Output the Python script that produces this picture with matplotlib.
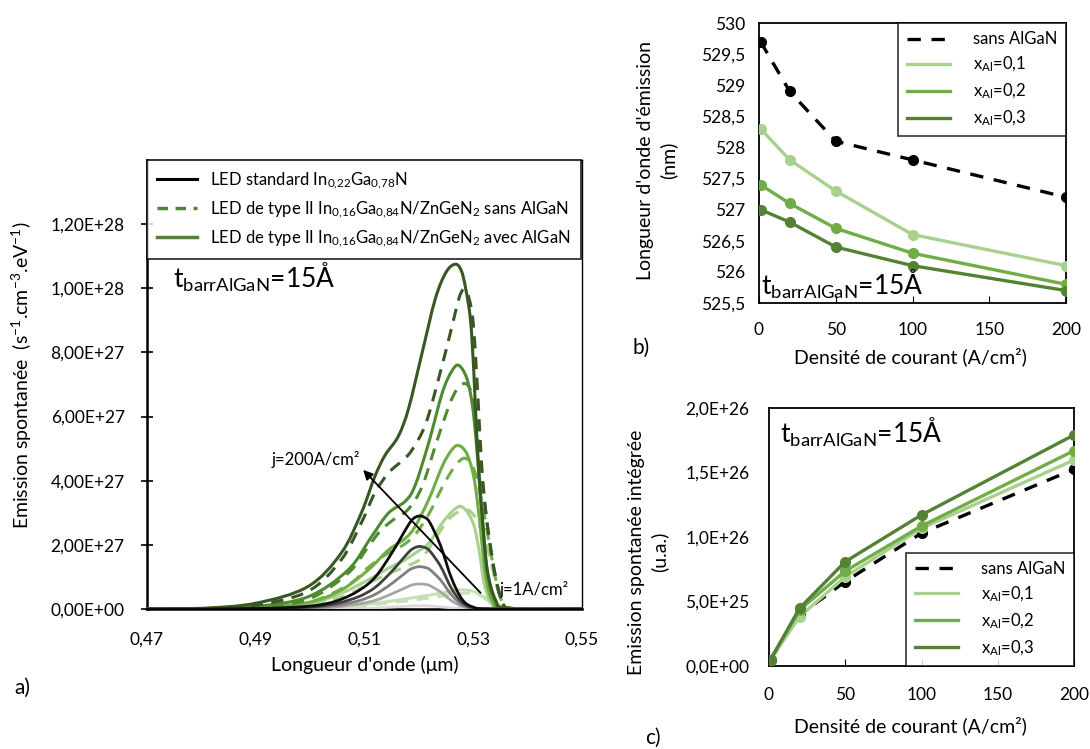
import matplotlib
matplotlib.use('Agg')
import matplotlib.pyplot as plt
from matplotlib.ticker import FuncFormatter
from matplotlib.path import Path
from matplotlib.patches import PathPatch

plt.rcParams['font.family'] = ['Lato', 'DejaVu Sans']
plt.rcParams['mathtext.fontset'] = 'custom'
plt.rcParams['mathtext.rm'] = 'Lato'
plt.rcParams['mathtext.it'] = 'Lato:italic'
plt.rcParams['mathtext.bf'] = 'Lato:bold'
plt.rcParams['mathtext.default'] = 'regular'

# ---------------------------------------------------------------
# a) spectra (values in 1e27 s-1.cm-3.eV-1), currents 1,20,50,100,200 A/cm2
# ---------------------------------------------------------------
currents = [1, 20, 50, 100, 200]

wl_std = [0.470, 0.490, 0.500, 0.505, 0.509, 0.512, 0.515, 0.518, 0.519, 0.520,
          0.521, 0.522, 0.524, 0.526, 0.528, 0.530, 0.533, 0.550]
em_std = [
    [0, 0, 0.003, 0.009, 0.02, 0.035, 0.06, 0.09, 0.097, 0.10, 0.099, 0.093, 0.068, 0.033, 0.01, 0.002, 0, 0],
    [0, 0.004, 0.023, 0.07, 0.16, 0.27, 0.47, 0.70, 0.76, 0.78, 0.77, 0.73, 0.53, 0.26, 0.08, 0.016, 0, 0],
    [0, 0.007, 0.04, 0.12, 0.26, 0.46, 0.79, 1.19, 1.28, 1.32, 1.30, 1.23, 0.90, 0.44, 0.13, 0.03, 0, 0],
    [0, 0.01, 0.06, 0.18, 0.39, 0.68, 1.17, 1.75, 1.89, 1.95, 1.92, 1.81, 1.33, 0.64, 0.20, 0.04, 0, 0],
    [0, 0.015, 0.09, 0.26, 0.58, 1.00, 1.74, 2.60, 2.82, 2.90, 2.86, 2.70, 1.97, 0.96, 0.29, 0.06, 0, 0],
]

# type II LED with AlGaN (solid)
wl_avec = [
    [0.470, 0.490, 0.500, 0.505, 0.510, 0.515, 0.520, 0.5243, 0.5265, 0.528, 0.530, 0.532, 0.534, 0.536, 0.550],
    [0.470, 0.480, 0.490, 0.4996, 0.5057, 0.5107, 0.5144, 0.5169, 0.5193, 0.5218, 0.5243, 0.5262, 0.5277,
     0.5292, 0.5303, 0.5312, 0.5320, 0.5333, 0.5350, 0.550],
    [0.470, 0.480, 0.490, 0.4996, 0.5057, 0.5107, 0.5144, 0.5175, 0.5193, 0.5218, 0.5243, 0.5260, 0.5273,
     0.5288, 0.5300, 0.5308, 0.5315, 0.5323, 0.5335, 0.5355, 0.550],
    [0.470, 0.480, 0.490, 0.4996, 0.5070, 0.5113, 0.5144, 0.5175, 0.5193, 0.5218, 0.5243, 0.5260, 0.5273,
     0.5288, 0.5298, 0.5305, 0.5311, 0.5318, 0.5326, 0.5340, 0.5360, 0.550],
    [0.470, 0.480, 0.490, 0.4996, 0.5057, 0.5094, 0.5119, 0.5138, 0.5162, 0.5181, 0.5206, 0.5230, 0.5250,
     0.5267, 0.5278, 0.5286, 0.5295, 0.5301, 0.5305, 0.5310, 0.5317, 0.5326, 0.5341, 0.5360, 0.550],
]
em_avec = [
    [0, 0.005, 0.03, 0.07, 0.14, 0.25, 0.38, 0.50, 0.57, 0.60, 0.55, 0.35, 0.10, 0.02, 0],
    [0, 0.003, 0.03, 0.15, 0.49, 0.91, 1.27, 1.48, 1.74, 2.05, 2.68, 3.05, 3.20,
     2.95, 2.50, 1.70, 0.80, 0.20, 0.03, 0],
    [0, 0.005, 0.04, 0.20, 0.59, 1.22, 1.84, 2.20, 2.57, 3.41, 4.45, 4.95, 5.10,
     4.85, 4.20, 3.30, 2.20, 1.00, 0.25, 0.02, 0],
    [0, 0.01, 0.08, 0.38, 1.22, 2.26, 2.99, 3.36, 3.85, 5.18, 6.74, 7.40, 7.60,
     7.20, 6.40, 5.30, 4.00, 2.50, 1.10, 0.25, 0.02, 0],
    [0, 0.02, 0.18, 0.70, 1.74, 2.99, 4.13, 4.80, 5.38, 6.25, 7.99, 9.66, 10.50,
     10.75, 10.55, 10.00, 9.00, 7.40, 5.90, 4.40, 2.80, 1.20, 0.28, 0.02, 0],
]

# type II LED without AlGaN (dashed)
wl_sans = [
    [0.470, 0.490, 0.500, 0.505, 0.510, 0.515, 0.520, 0.525, 0.529, 0.531, 0.533, 0.535, 0.537, 0.550],
    [0.470, 0.490, 0.4996, 0.5070, 0.5107, 0.5144, 0.5180, 0.5206, 0.5230, 0.5255, 0.5275, 0.5287,
     0.5300, 0.5315, 0.5329, 0.5341, 0.5354, 0.5370, 0.550],
    [0.470, 0.480, 0.490, 0.4996, 0.5070, 0.5107, 0.5144, 0.5170, 0.5193, 0.5218, 0.5243, 0.5262, 0.5275,
     0.5285, 0.5296, 0.5306, 0.5315, 0.5329, 0.5341, 0.5354, 0.5370, 0.550],
    [0.470, 0.480, 0.490, 0.4996, 0.5070, 0.5107, 0.5131, 0.5156, 0.5181, 0.5206, 0.5230, 0.5255, 0.5270,
     0.5283, 0.5293, 0.5302, 0.5310, 0.5317, 0.5329, 0.5341, 0.5354, 0.5370, 0.550],
    [0.470, 0.480, 0.490, 0.4996, 0.5057, 0.5094, 0.5119, 0.5144, 0.5169, 0.5187, 0.5212, 0.5236, 0.5261,
     0.5274, 0.5283, 0.5292, 0.5300, 0.5308, 0.5315, 0.5322, 0.5329, 0.5341, 0.5354, 0.5370, 0.550],
]
em_sans = [
    [0, 0.003, 0.02, 0.05, 0.11, 0.20, 0.30, 0.42, 0.50, 0.45, 0.30, 0.10, 0.02, 0],
    [0, 0.02, 0.12, 0.45, 0.80, 1.10, 1.35, 1.60, 2.20, 2.80, 3.05, 3.10,
     2.95, 2.45, 1.70, 0.85, 0.19, 0.02, 0],
    [0, 0.005, 0.04, 0.20, 0.75, 1.30, 1.75, 1.98, 2.32, 2.95, 3.80, 4.35, 4.62,
     4.70, 4.55, 4.10, 3.40, 2.10, 0.95, 0.19, 0.02, 0],
    [0, 0.01, 0.06, 0.30, 1.12, 1.95, 2.47, 2.82, 3.12, 3.82, 5.07, 6.32, 6.85,
     7.03, 6.90, 6.40, 5.20, 3.90, 2.20, 1.00, 0.19, 0.02, 0],
    [0, 0.02, 0.12, 0.55, 1.53, 2.68, 3.62, 4.24, 4.62, 4.95, 5.75, 7.16, 8.82,
     9.70, 9.97, 9.70, 8.90, 6.80, 4.60, 3.20, 2.26, 1.00, 0.19, 0.02, 0],
]

grey_cols = ['#d9d9d9', '#a6a6a6', '#7f7f7f', '#404040', '#0d0d0d']
green_cols = ['#c5e0b4', '#a9d18e', '#70ad47', '#4e8a30', '#385723']

# ---------------------------------------------------------------
# b) emission wavelength (nm) and c) integrated emission (u.a.)
# ---------------------------------------------------------------
j_dens = [1, 20, 50, 100, 200]
lam_sans = [529.7, 528.9, 528.1, 527.8, 527.2]
lam_x01 = [528.3, 527.8, 527.3, 526.6, 526.1]
lam_x02 = [527.4, 527.1, 526.7, 526.3, 525.8]
lam_x03 = [527.0, 526.8, 526.4, 526.1, 525.7]

int_sans = [0.50e25, 3.95e25, 6.55e25, 1.03e26, 1.525e26]
int_x01 = [0.50e25, 3.82e25, 6.92e25, 1.067e26, 1.597e26]
int_x02 = [0.50e25, 4.34e25, 7.36e25, 1.085e26, 1.669e26]
int_x03 = [0.50e25, 4.47e25, 8.09e25, 1.171e26, 1.791e26]

xal_labels = ['x$_{Al}$=0,1', 'x$_{Al}$=0,2', 'x$_{Al}$=0,3']
xal_cols = ['#a9d18e', '#70ad47', '#548235']

W, H = 1090, 749
fig = plt.figure(figsize=(W / 100, H / 100), dpi=100)


def px_axes(l, t, r, b):
    return fig.add_axes([l / W, 1 - b / H, (r - l) / W, (b - t) / H])


def smooth_line(ax, xs, ys, **kw):
    # smoothed line through the points (bezier, like the spreadsheet "smoothed line" option)
    pts = list(zip(xs, ys))
    n = len(pts)
    verts, codes = [pts[0]], [Path.MOVETO]
    for i in range(n - 1):
        p0 = pts[i - 1] if i > 0 else pts[i]
        p1, p2 = pts[i], pts[i + 1]
        p3 = pts[i + 2] if i + 2 < n else pts[i + 1]
        c1x = min(max(p1[0] + (p2[0] - p0[0]) / 6, p1[0]), p2[0])
        c2x = min(max(p2[0] - (p3[0] - p1[0]) / 6, p1[0]), p2[0])
        c1 = (c1x, p1[1] + (p2[1] - p0[1]) / 6)
        c2 = (c2x, p2[1] - (p3[1] - p1[1]) / 6)
        verts += [c1, c2, p2]
        codes += [Path.CURVE4] * 3
    ax.add_patch(PathPatch(Path(verts, codes), fill=False, **kw))


# ========================= panel a =========================
ax = px_axes(147, 160, 582, 609)
for k in range(5):
    smooth_line(ax, wl_avec[k], [v * 1e27 for v in em_avec[k]], edgecolor=green_cols[k], lw=2.2, zorder=3)
    smooth_line(ax, wl_sans[k], [v * 1e27 for v in em_sans[k]], edgecolor=green_cols[k], lw=2.2,
                linestyle=(0, (4, 2.8)), zorder=3)
for k in range(5):
    smooth_line(ax, wl_std, [v * 1e27 for v in em_std[k]], edgecolor=grey_cols[k], lw=2.0, zorder=4)

ax.set_xlim(0.47, 0.55)
ax.set_ylim(0, 1.4e28)
ax.set_xticks([0.47, 0.49, 0.51, 0.53, 0.55])
ax.set_yticks([0, 2e27, 4e27, 6e27, 8e27, 1e28, 1.2e28])
ax.xaxis.set_major_formatter(FuncFormatter(lambda v, p: f'{v:.2f}'.replace('.', ',')))
ax.yaxis.set_major_formatter(FuncFormatter(lambda v, p: f'{v:.2E}'.replace('.', ',')))
ax.tick_params(axis='y', direction='inout', length=8, width=1.2, labelsize=12.5, pad=12)
ax.tick_params(axis='x', length=0, labelsize=12.5, pad=16)
for s in ['left', 'bottom']:
    ax.spines[s].set_linewidth(1.8)
for s in ['top', 'right']:
    ax.spines[s].set_linewidth(1.0)

h_std = plt.Line2D([], [], color='black', lw=2.2)
h_sans = plt.Line2D([], [], color='#548235', lw=2.5, dashes=(3, 2.2))
h_avec = plt.Line2D([], [], color='#548235', lw=2.5)
leg = ax.legend([h_std, h_sans, h_avec],
                ['LED standard In$_{0{,}22}$Ga$_{0{,}78}$N',
                 'LED de type II In$_{0{,}16}$Ga$_{0{,}84}$N/ZnGeN$_2$ sans AlGaN',
                 'LED de type II In$_{0{,}16}$Ga$_{0{,}84}$N/ZnGeN$_2$ avec AlGaN'],
                loc='upper left', borderaxespad=0, fontsize=12, frameon=True, fancybox=False,
                handlelength=2.4, labelspacing=0.5, borderpad=0.6)
leg.get_frame().set_edgecolor('black')
leg.get_frame().set_linewidth(1.3)

ax.text(0.4748, 1.0e28, 't$_{barrAlGaN}$=15Å', fontsize=19, va='baseline')
ax.annotate('', xy=(0.5094, 4.4e27), xytext=(0.5317, 0.44e27),
            arrowprops=dict(arrowstyle='-|>', color='black', lw=1.3, mutation_scale=14), zorder=6)
ax.text(0.5011, 4.5e27, 'j=200A/cm²', fontsize=12, ha='center', va='baseline', zorder=6)
ax.text(0.5348, 0.44e27, 'j=1A/cm²', fontsize=12, ha='left', va='baseline', zorder=6)

fig.text(22 / W, 1 - 375 / H, 'Emission spontanée  (s$^{-1}$.cm$^{-3}$.eV$^{-1}$)',
         rotation=90, ha='center', va='center', fontsize=14)
fig.text(365 / W, 1 - 665 / H, "Longueur d'onde (μm)", ha='center', va='center', fontsize=14)
fig.text(22 / W, 1 - 688 / H, 'a)', ha='center', va='center', fontsize=15)

# ========================= panel b =========================
bx = px_axes(759, 23, 1066, 303)
bx.plot(j_dens, lam_sans, color='black', lw=2.4, dashes=(4, 3.2), marker='o', ms=7, zorder=3,
        label='sans AlGaN')
for lam, lab, col in zip([lam_x01, lam_x02, lam_x03], xal_labels, xal_cols):
    bx.plot(j_dens, lam, color=col, lw=2.4, marker='o', ms=7, zorder=3, label=lab)
bx.set_xlim(0, 200)
bx.set_ylim(525.5, 530)
bx.set_xticks([0, 50, 100, 150, 200])
bx.set_yticks([525.5 + 0.5 * i for i in range(10)])
bx.yaxis.set_major_formatter(FuncFormatter(
    lambda v, p: (f'{v:.0f}' if abs(v - round(v)) < 1e-6 else f'{v:.1f}').replace('.', ',')))
bx.tick_params(axis='x', direction='in', length=5, labelsize=12.5, pad=14)
bx.tick_params(axis='y', length=0, labelsize=12.5, pad=10)
for s in bx.spines.values():
    s.set_linewidth(1.3)
lg = bx.legend(loc='upper right', borderaxespad=0, fontsize=12, fancybox=False,
               handlelength=2.6, labelspacing=0.45, borderpad=0.5, handletextpad=1.4)
for h in lg.legend_handles:
    h.set_marker('')
lg.get_frame().set_edgecolor('black')
lg.get_frame().set_linewidth(1.2)
bx.text(1, 525.63, 't$_{barrAlGaN}$=15Å', fontsize=19, va='baseline', zorder=5)
fig.text(910 / W, 1 - 357 / H, 'Densité de courant (A/cm²)', ha='center', va='center', fontsize=14)
fig.text(657 / W, 1 - 160 / H, "Longueur d'onde d'émission\n(nm)", rotation=90, ha='center',
         va='center', fontsize=14, multialignment='center', linespacing=1.35)
fig.text(641 / W, 1 - 348 / H, 'b)', ha='center', va='center', fontsize=15)

# ========================= panel c =========================
cx = px_axes(769, 408, 1074, 666)
cx.plot(j_dens, int_sans, color='black', lw=2.4, dashes=(4, 3.2), marker='o', ms=7, zorder=3,
        label='sans AlGaN')
for iv, lab, col in zip([int_x01, int_x02, int_x03], xal_labels, xal_cols):
    cx.plot(j_dens, iv, color=col, lw=2.4, marker='o', ms=7, zorder=3, label=lab)
cx.set_xlim(0, 200)
cx.set_ylim(0, 2e26)
cx.set_xticks([0, 50, 100, 150, 200])
cx.set_yticks([0, 5e25, 1e26, 1.5e26, 2e26])
cx.yaxis.set_major_formatter(FuncFormatter(lambda v, p: f'{v:.1E}'.replace('.', ',')))
cx.tick_params(axis='x', direction='in', length=5, labelsize=12.5, pad=15)
cx.tick_params(axis='y', length=0, labelsize=12.5, pad=14)
for s in cx.spines.values():
    s.set_linewidth(1.3)
lg = cx.legend(loc='lower right', borderaxespad=0, fontsize=12, fancybox=False,
               handlelength=2.6, labelspacing=0.45, borderpad=0.5, handletextpad=1.4)
for h in lg.legend_handles:
    h.set_marker('')
lg.get_frame().set_edgecolor('black')
lg.get_frame().set_linewidth(1.2)
lg.set_zorder(5)
cx.text(7, 1.729e26, 't$_{barrAlGaN}$=15Å', fontsize=19, va='baseline')
fig.text(910 / W, 1 - 726 / H, 'Densité de courant (A/cm²)', ha='center', va='center', fontsize=14)
fig.text(648 / W, 1 - 552 / H, 'Emission spontanée intégrée\n(u.a.)', rotation=90, ha='center',
         va='center', fontsize=14, multialignment='center', linespacing=1.35)
fig.text(653 / W, 1 - 738 / H, 'c)', ha='center', va='center', fontsize=15)

fig.savefig('out.png', dpi=100)
